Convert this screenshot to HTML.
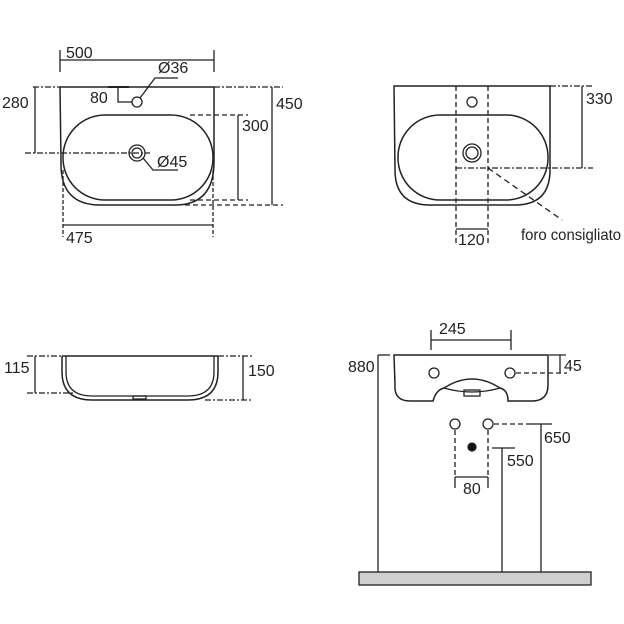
<!DOCTYPE html>
<html><head><meta charset="utf-8"><style>
html,body{margin:0;padding:0;background:#fff;}
svg{display:block}
text{font-family:"Liberation Sans",sans-serif;font-size:16px;fill:#222;}
</style></head><body>
<svg width="624" height="624" viewBox="0 0 624 624" xmlns="http://www.w3.org/2000/svg">
<g fill="none" stroke="#222" stroke-width="1.3">
<!-- ===== TOP LEFT ===== -->
<line x1="60" y1="50" x2="60" y2="72"/><line x1="214" y1="50" x2="214" y2="72"/>
<line x1="60" y1="60" x2="214" y2="60"/>
<line x1="33" y1="87" x2="60" y2="87" stroke-dasharray="6,2,2,2"/>
<line x1="214" y1="87" x2="283" y2="87" stroke-dasharray="6,2,2,2"/>
<path d="M60,87 L60,87 L214,87 L214,162 Q214,205 175,205 L100,205 Q60,205 61,162 Z" stroke-width="1.5"/>
<rect x="63" y="115" width="150" height="85" rx="42" ry="42" stroke-width="1.5"/>
<line x1="108" y1="87" x2="129" y2="87" stroke-width="2"/>
<polyline points="118,87 118,102 132,102"/>
<circle cx="137" cy="102" r="5"/>
<polyline points="140,98 155,78 178,78"/>
<line x1="35" y1="87" x2="35" y2="153"/>
<line x1="25" y1="153" x2="150" y2="153" stroke-dasharray="6,2,2,2"/>
<circle cx="137" cy="153" r="8"/><circle cx="137" cy="153" r="5"/>
<polyline points="143,158 153,170 178,170"/>
<line x1="190" y1="115" x2="248" y2="115" stroke-dasharray="5,3"/>
<line x1="190" y1="200" x2="248" y2="200" stroke-dasharray="5,3"/>
<line x1="238" y1="115" x2="238" y2="200"/>
<line x1="185" y1="205" x2="283" y2="205" stroke-dasharray="5,3"/>
<line x1="272" y1="87" x2="272" y2="205"/>
<line x1="63" y1="170" x2="63" y2="237" stroke-dasharray="4,2"/>
<line x1="213" y1="170" x2="213" y2="237" stroke-dasharray="4,2"/>
<line x1="63" y1="225" x2="213" y2="225"/>
<!-- ===== TOP RIGHT ===== -->
<path d="M394,86 L550,86 L550,170 Q550,205 515,205 L430,205 Q395,205 395,170 Z" stroke-width="1.5"/>
<rect x="398" y="115" width="150" height="85" rx="42" ry="42" stroke-width="1.5"/>
<line x1="456" y1="86" x2="456" y2="245" stroke-dasharray="5,3"/>
<line x1="488" y1="86" x2="488" y2="245" stroke-dasharray="5,3"/>
<line x1="456" y1="229" x2="488" y2="229"/>
<circle cx="472" cy="102" r="5"/>
<circle cx="472" cy="153" r="9"/><circle cx="472" cy="153" r="6"/>
<line x1="456" y1="168" x2="593" y2="168" stroke-dasharray="6,2,2,2"/>
<line x1="550" y1="86" x2="592" y2="86" stroke-dasharray="6,2,2,2"/>
<line x1="582" y1="86" x2="582" y2="168"/>
<line x1="488" y1="168" x2="562" y2="220" stroke-dasharray="6,4"/>
<!-- ===== BOTTOM LEFT ===== -->
<line x1="27" y1="356" x2="62" y2="356" stroke-dasharray="6,2,2,2"/>
<line x1="218" y1="356" x2="253" y2="356" stroke-dasharray="6,2,2,2"/>
<line x1="62" y1="356" x2="218" y2="356" stroke-width="1.5"/>
<path d="M62,356 L62,372 Q62,400 92,400 L188,400 Q218,400 218,372 L218,356" stroke-width="1.5"/>
<path d="M66,356 L66,372 Q66,396 92,396 L188,396 Q214,396 214,372 L214,356"/>
<rect x="133" y="396" width="13" height="3"/>
<line x1="35" y1="356" x2="35" y2="393"/>
<line x1="27" y1="393" x2="75" y2="393" stroke-dasharray="6,2,2,2"/>
<line x1="205" y1="400" x2="253" y2="400" stroke-dasharray="6,2,2,2"/>
<line x1="243" y1="356" x2="243" y2="400"/>
<!-- ===== BOTTOM RIGHT ===== -->
<line x1="431" y1="330" x2="431" y2="350"/><line x1="511" y1="330" x2="511" y2="350"/>
<line x1="431" y1="340" x2="511" y2="340"/>
<path d="M394,355 L548,355 L548,385 Q548,401 532,401 L508,401 Q508,390 500,388 Q472,370 444,388 Q436,390 433,401 L410,401 Q394,401 395,385 Z" stroke-width="1.5"/>
<path d="M444,388 Q472,396 500,388"/>
<rect x="464" y="390" width="16" height="6"/>
<circle cx="434" cy="373" r="5"/><circle cx="510" cy="373" r="5"/>
<line x1="516" y1="373" x2="567" y2="373" stroke-dasharray="5,3"/>
<line x1="549" y1="355" x2="566" y2="355"/>
<line x1="560" y1="355" x2="560" y2="373"/>
<line x1="378" y1="355" x2="390" y2="355"/>
<line x1="378" y1="355" x2="378" y2="572"/>
<rect x="359" y="572" width="232" height="13" fill="#cfcfcf"/>
<circle cx="455" cy="424" r="5"/><circle cx="488" cy="424" r="5"/>
<line x1="455" y1="430" x2="455" y2="477" stroke-dasharray="5,3"/>
<line x1="488" y1="430" x2="488" y2="477" stroke-dasharray="5,3"/>
<line x1="455" y1="477" x2="488" y2="477"/>
<line x1="455" y1="477" x2="455" y2="488"/><line x1="488" y1="477" x2="488" y2="488"/>
<circle cx="472" cy="447" r="4" fill="#111"/>
<line x1="494" y1="424" x2="530" y2="424" stroke-dasharray="5,3"/>
<line x1="530" y1="424" x2="552" y2="424"/>
<line x1="541" y1="424" x2="541" y2="572"/>
<line x1="492" y1="448" x2="515" y2="448"/>
<line x1="502" y1="448" x2="502" y2="572"/>
</g>
<g>
<text x="66" y="58">500</text>
<text x="158" y="73" font-size="10">Ø36</text>
<text x="90" y="103">80</text>
<text x="2" y="108">280</text>
<text x="157" y="167" font-size="10">Ø45</text>
<text x="242" y="131">300</text>
<text x="276" y="109">450</text>
<text x="66" y="243">475</text>
<text x="586" y="104">330</text>
<text x="458" y="245">120</text>
<text x="521" y="240" font-size="13" textLength="100" lengthAdjust="spacingAndGlyphs">foro consigliato</text>
<text x="4" y="373">115</text>
<text x="248" y="376">150</text>
<text x="439" y="334">245</text>
<text x="348" y="372">880</text>
<text x="564" y="371">45</text>
<text x="544" y="443">650</text>
<text x="507" y="466">550</text>
<text x="463" y="494">80</text>
</g>
</svg>
</body></html>
